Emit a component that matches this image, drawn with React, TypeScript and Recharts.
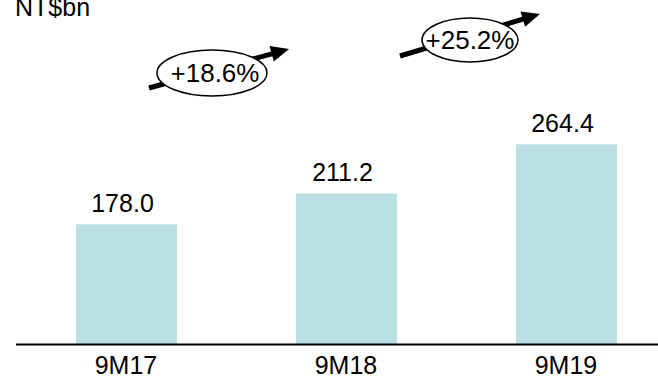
import { BarChart, Bar, XAxis, YAxis, LabelList } from 'recharts';

// Nine-month revenue, NT$ billions
const periods = ['9M17', '9M18', '9M19'];
const revenue = [178.0, 211.2, 264.4];
const growthLabels = ['+18.6%', '+25.2%'];

const chartData = periods.map((period, i) => ({ period, revenue: revenue[i] }));

const FONT = '"Liberation Sans", Arial, sans-serif';
const BAR_COLOR = '#bae0e3';

// Growth callouts: arrow from tail to tip, with an ellipse badge over it
const callouts = [
    { tail: [149, 88], tip: [289, 49], cx: 212, cy: 73, rx: 55, ry: 23, tx: 215 },
    { tail: [400, 56], tip: [540, 14], cx: 470, cy: 40, rx: 48, ry: 22, tx: 470 },
];

function GrowthArrow({ tail, tip }: { tail: number[]; tip: number[] }) {
    const dx = tip[0] - tail[0];
    const dy = tip[1] - tail[1];
    const len = Math.hypot(dx, dy);
    const ux = dx / len;
    const uy = dy / len;
    const headLen = 18;
    const headHalf = 8;
    const bx = tip[0] - ux * headLen;
    const by = tip[1] - uy * headLen;
    const pts = [
        [tip[0], tip[1]],
        [bx - uy * headHalf, by + ux * headHalf],
        [bx + uy * headHalf, by - ux * headHalf],
    ].map((p) => p.join(',')).join(' ');
    return (
        <g>
            <line x1={tail[0]} y1={tail[1]} x2={bx + ux * 2} y2={by + uy * 2} stroke="#000" strokeWidth={5} />
            <polygon points={pts} fill="#000" />
        </g>
    );
}

function ValueLabel(props: any) {
    const { x, y, width, value } = props;
    return (
        <text x={x + width / 2 - 4} y={y - 12} textAnchor="middle" fontFamily={FONT} fontSize={25} fill="#000">
            {Number(value).toFixed(1)}
        </text>
    );
}

function PeriodTick(props: any) {
    const { x, y, payload } = props;
    return (
        <text x={x} y={y + 29.5} textAnchor="middle" fontFamily={FONT} fontSize={25} fill="#000">
            {payload.value}
        </text>
    );
}

export default function App() {
    return (
        <div style={{ position: 'absolute', left: 0, top: 0, width: 658, height: 380, overflow: 'hidden', background: '#fff' }}>
            <BarChart
                width={676}
                height={380}
                data={chartData}
                margin={{ top: 111.2, right: 0, left: 16, bottom: 0 }}
            >
                <XAxis
                    dataKey="period"
                    height={35.5}
                    tickLine={false}
                    tickSize={0}
                    tickMargin={0}
                    axisLine={{ stroke: '#000', strokeWidth: 2 }}
                    tick={<PeriodTick />}
                    interval={0}
                />
                <YAxis hide domain={[48, 300]} allowDataOverflow />
                <Bar dataKey="revenue" fill={BAR_COLOR} barSize={101} isAnimationActive={false}>
                    <LabelList dataKey="revenue" content={<ValueLabel />} />
                </Bar>
            </BarChart>

            <svg width={658} height={380} style={{ position: 'absolute', left: 0, top: 0, pointerEvents: 'none' }}>
                <text x={15} y={16} fontFamily={FONT} fontSize={25} fill="#000">NT$bn</text>
                {callouts.map((c, i) => (
                    <g key={i}>
                        <GrowthArrow tail={c.tail} tip={c.tip} />
                        <ellipse cx={c.cx} cy={c.cy} rx={c.rx} ry={c.ry} fill="#fff" stroke="#000" strokeWidth={1.5} />
                        <text x={c.tx} y={c.cy + 9} textAnchor="middle" fontFamily={FONT} fontSize={26} fill="#000">
                            {growthLabels[i]}
                        </text>
                    </g>
                ))}
            </svg>
        </div>
    );
}
